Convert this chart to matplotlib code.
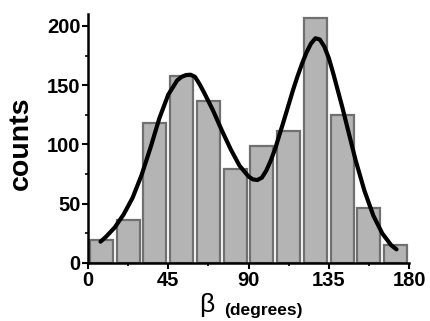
import numpy as np
from matplotlib import pyplot as plt
from matplotlib.ticker import MultipleLocator

plt.rcParams['font.family'] = ['Liberation Sans', 'DejaVu Sans']

# histogram of beta angles, 15 degree bins
bin_centers = [7.5, 22.5, 37.5, 52.5, 67.5, 82.5, 97.5, 112.5, 127.5, 142.5, 157.5, 172.5]
counts = [19, 36, 118, 158, 137, 79, 99, 111, 207, 125, 46, 15]

# fitted curve
fit_x = [7, 10, 15, 20, 25, 30, 35, 40, 45, 50, 52.5, 55, 57.5, 60, 62.5, 65,
         70, 75, 80, 85, 90, 92.5, 95, 97.5, 100, 102.5, 105, 110, 115, 117.5,
         120, 122.5, 125, 127.5, 130, 132.5, 135, 137.5, 140, 142.5, 145, 150,
         155, 160, 165, 170, 173]
fit_y = [18, 22, 30, 41, 55, 74, 97, 122, 142, 154, 157, 158.5, 158.8, 157,
         151, 144, 129, 112, 96, 82, 73, 70.5, 70, 72, 78, 86.5, 96.5, 121,
         146, 157.5, 168, 177.5, 185, 189.5, 188.5, 182.5, 173, 160, 146, 132,
         117, 87, 61, 40, 25, 15, 11.5]

fig = plt.figure(figsize=(4.3, 3.21), dpi=100)
ax = fig.add_axes([88 / 430, 1 - 263 / 321, 321 / 430, 249 / 321])

ax.bar(bin_centers, counts, width=13, color='#b4b4b4', edgecolor='#707070',
       linewidth=1.6, zorder=2)
ax.plot(fit_x, fit_y, color='black', linewidth=3, solid_capstyle='round',
        solid_joinstyle='round', zorder=3)

ax.set_xlim(0, 180)
ax.set_ylim(0, 210)
ax.xaxis.set_major_locator(MultipleLocator(45))
ax.xaxis.set_minor_locator(MultipleLocator(22.5))
ax.yaxis.set_major_locator(MultipleLocator(50))
ax.yaxis.set_minor_locator(MultipleLocator(25))

for side in ['top', 'right']:
    ax.spines[side].set_visible(False)
for side in ['left', 'bottom']:
    ax.spines[side].set_linewidth(1.8)

ax.tick_params(which='major', direction='out', length=4, width=1.5, pad=2)
ax.tick_params(which='minor', direction='out', length=2.5, width=1.2)
ax.tick_params(axis='y', which='major', pad=1.5)
for lab in ax.get_xticklabels() + ax.get_yticklabels():
    lab.set_fontsize(14.5)
    lab.set_fontweight('bold')

fig.text(21 / 430, 1 - 143 / 321, 'counts', rotation=90, fontsize=20.5,
         fontweight='bold', ha='center', va='center')
fig.text(207 / 430, 1 - 305 / 321, 'β', fontsize=19, ha='center', va='center')
fig.text(263 / 430, 1 - 310 / 321, '(degrees)', fontsize=12.5,
         fontweight='bold', ha='center', va='center')

fig.savefig('out.png', dpi=100)
